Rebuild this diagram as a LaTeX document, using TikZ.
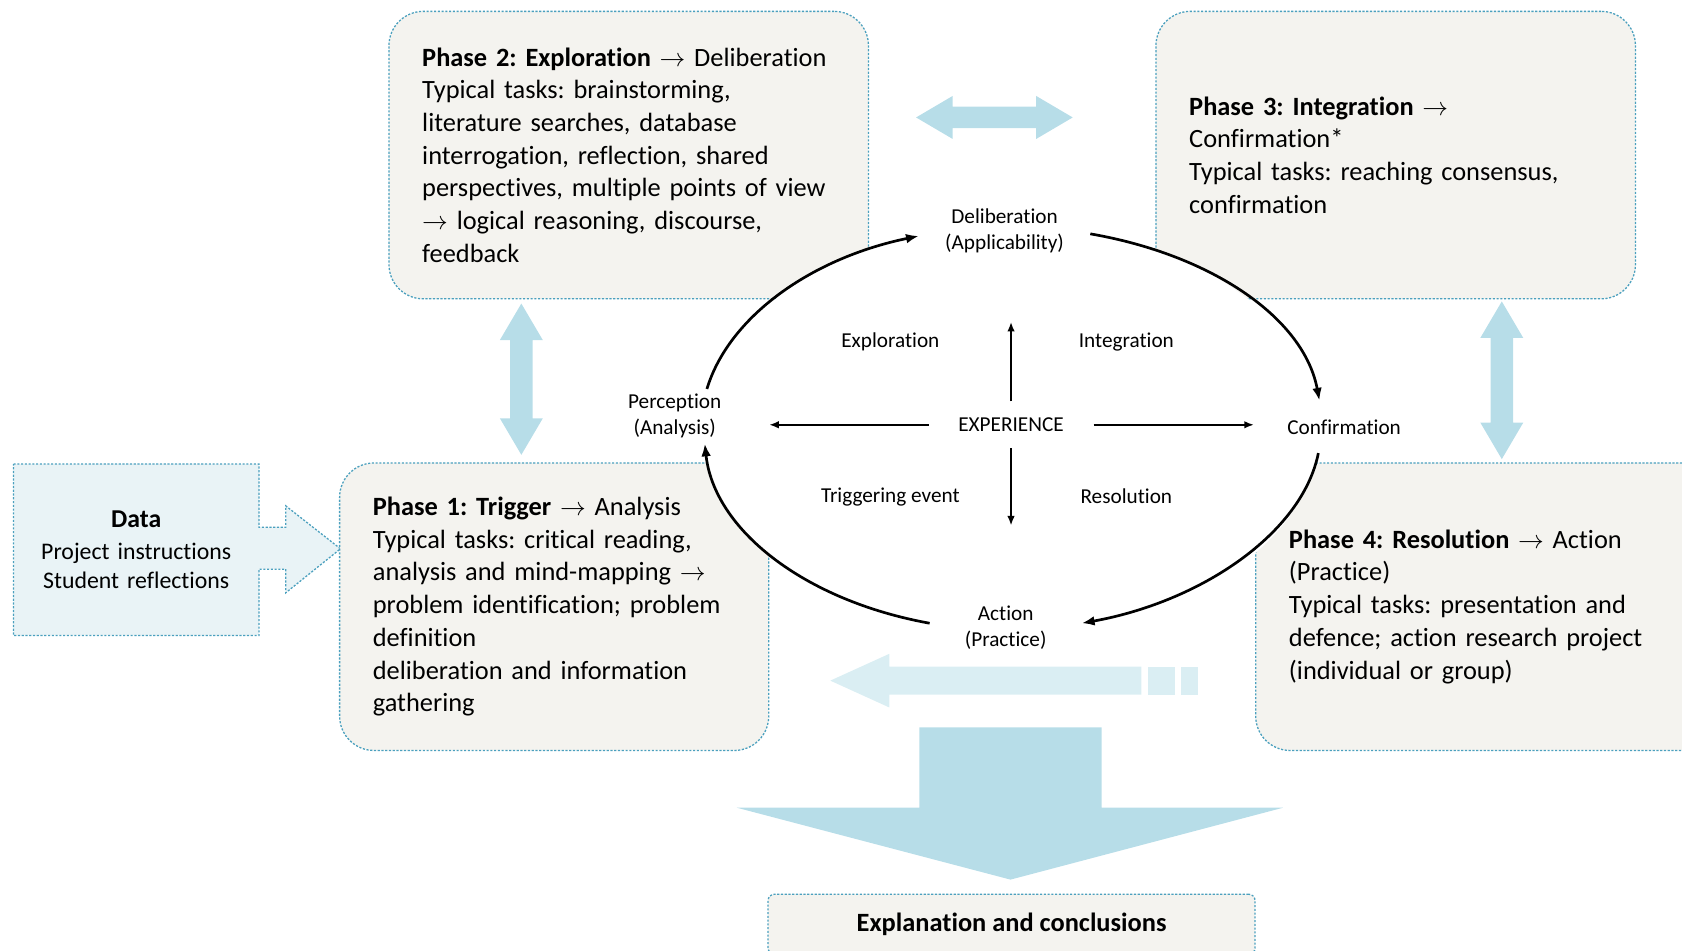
\documentclass[tikz,border=0pt]{standalone}
\usepackage{fontspec}
\setmainfont{Carlito}[Ligatures=NoCommon]
\usepackage{amsmath}
\usepackage{tikz}
\usetikzlibrary{arrows.meta,backgrounds}
\frenchspacing

\definecolor{phasefill}{RGB}{244,243,239}
\definecolor{phaseline}{RGB}{75,160,190}
\definecolor{aqua}{RGB}{183,221,232}
\definecolor{paleaqua}{RGB}{218,238,243}
\definecolor{datafill}{RGB}{233,243,246}

\begin{document}
\begin{tikzpicture}[x=0.5pt, y=-0.5pt,
		dotline/.style={draw=phaseline, line width=0.6pt, dash pattern=on 1pt off 0.75pt},
		phase/.style={dotline, fill=phasefill, rounded corners=16pt, anchor=north west,
			minimum height=134pt, inner xsep=15.5pt, align=left,
			font=\fontsize{12.3}{15.25}\selectfont},
		lbl/.style={inner sep=0pt, align=center, font=\fontsize{9.9}{12}\selectfont},
		cyc/.style={line width=1.25pt, -{Latex[length=6pt,width=4.5pt]}},
		spoke/.style={line width=0.9pt, -{Latex[length=4.5pt,width=3.5pt]}}]
	\useasboundingbox (0,0) rectangle (1568,886);
	\clip (0,0) rectangle (1568,886);

	% the four phases
	\node[phase, text width=192.5pt] (ph2) at (362,10) {\textbf{Phase 2: Exploration} $\rightarrow$ Deliberation\\
		Typical tasks: brainstorming,\\
		literature searches, database\\
		interrogation, reflection, shared\\
		perspectives, multiple points of view\\
		$\rightarrow$ logical reasoning, discourse,\\
		feedback};
	\node[phase, text width=192.5pt] (ph3) at (1077,10) {\textbf{Phase 3: Integration} $\rightarrow$\\
		Confirmation*\\
		Typical tasks: reaching consensus,\\
		confirmation};
	\node[phase, text width=169pt] (ph1) at (316,431) {\textbf{Phase 1: Trigger} $\rightarrow$ Analysis\\
		Typical tasks: critical reading,\\
		analysis and mind-mapping $\rightarrow$\\
		problem identification; problem\\
		definition\\
		deliberation and information\\
		gathering};
	\node[phase, text width=192.5pt] (ph4) at (1170,431) {\textbf{Phase 4: Resolution} $\rightarrow$ Action\\
		(Practice)\\
		Typical tasks: presentation and\\
		defence; action research project\\
		(individual or group)};

	\fill[white] (943,400) ellipse (287 and 189);

	% block arrows
	\fill[aqua] (854,109.5) -- (888,89.5) -- (888,99.5) -- (966,99.5) -- (966,89.5) -- (1000,109.5)
		-- (966,129.5) -- (966,119.5) -- (888,119.5) -- (888,129.5) -- cycle;
	\foreach \x/\t/\b in {486/283/424, 1400/281/428}
		\fill[aqua] (\x,\t) -- ++(20,34) -- ++(-9.5,0) -- ({\x+10.5},{\b-34}) -- ++(9.5,0) -- (\x,\b)
			-- ++(-20,-34) -- ++(9.5,0) -- ({\x-10.5},{\t+34}) -- ++(-9.5,0) -- cycle;
	\fill[paleaqua] (774,634.5) -- (829,609.5) -- (829,621.5) -- (1064,621.5) -- (1064,647.5)
		-- (829,647.5) -- (829,659.5) -- cycle;
	\foreach \a/\b in {1070/1095.5, 1101/1116.5}
		\fill[paleaqua] (\a,621.5) rectangle (\b,647.5);
	\fill[aqua] (857,678) -- (1027,678) -- (1027,753) -- (1196,753) -- (942,820) -- (687,753)
		-- (857,753) -- cycle;

	% data and conclusions
	\node[inner sep=0pt, text width=114pt, minimum height=79.5pt, align=center,
		font=\fontsize{11.1}{13.5}\selectfont] (data) at (127,512.5)
		{{\fontsize{12}{15}\selectfont\textbf{Data}}\\[1.5pt] Project instructions\\ Student reflections};
	\begin{scope}[on background layer]
		\draw[dotline, fill=datafill] (data.north west) -- (data.north east) -- ++(0,59) -- ++(25,0)
			-- ++(0,-20) -- ++(51,40) -- ++(-51,41) -- ++(0,-22) -- ++(-25,0) -- (data.south east)
			-- (data.south west) -- cycle;
	\end{scope}
	\node[dotline, fill=phasefill, rounded corners=3pt, anchor=north, minimum width=227pt,
		minimum height=28pt, font=\fontsize{12.3}{15.25}\selectfont] (concl) at (943,833)
		{\textbf{Explanation and conclusions}};

	% the cycle
	\node[lbl, minimum width=79.5pt] (delib) at (936.5,215) {Deliberation\\(Applicability)};
	\node[lbl, minimum height=25pt] (percep) at (629,388) {Perception\\(Analysis)};
	\node[lbl, minimum height=24pt] (confirm) at (1253,398) {Confirmation};
	\node[lbl, minimum width=70.5pt] (action) at (937.5,585) {Action\\(Practice)};
	\node[lbl, minimum width=76.5pt, minimum height=21.5pt] (exp) at (942.5,396) {EXPERIENCE};
	\node[lbl] (qexpl) at (830,319) {Exploration};
	\node[lbl] (qinteg) at (1050,319) {Integration};
	\node[lbl] (qtrig) at (830,463) {Triggering event};
	\node[lbl] (qresol) at (1050,463) {Resolution};

	\draw[cyc] ([xshift=15pt]percep.north) .. controls +(20.5,-67.7) and +(-99.9,20.6) .. ([yshift=-2.5pt]delib.west);
	\draw[cyc] ([yshift=-1.5pt]delib.east) .. controls +(113.7,19.7) and +(-14.3,-76.9) .. ([xshift=-11.5pt]confirm.north);
	\draw[cyc] ([xshift=-12pt]confirm.south) .. controls +(-15.2,75.1) and +(111,-20.1) .. ([yshift=2pt]action.east);
	\draw[cyc] ([yshift=2pt]action.west) .. controls +(-117.4,-21.3) and +(8.5,80) .. ([xshift=14pt]percep.south);

	\coordinate (uptip) at (942.5,300);
	\coordinate (downtip) at (942.5,490);
	\coordinate (lefttip) at (717,396);
	\coordinate (righttip) at (1169,396);
	\draw[spoke] (exp.north) -- (uptip);
	\draw[spoke] (exp.south) -- (downtip);
	\draw[spoke] (exp.west) -- (lefttip);
	\draw[spoke] (exp.east) -- (righttip);
\end{tikzpicture}
\end{document}
